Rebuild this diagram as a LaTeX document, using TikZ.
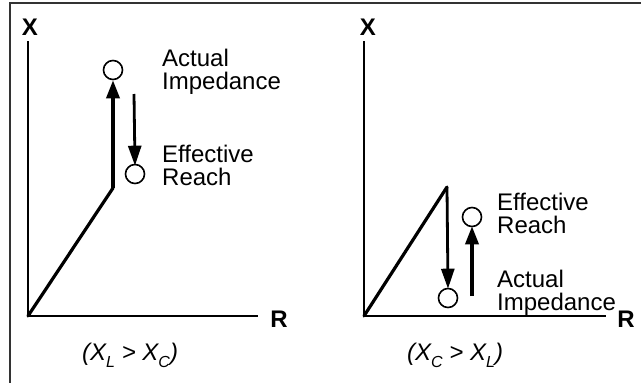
\documentclass[tikz,border=0pt]{standalone}
\usepackage{fontspec}
\setmainfont{Liberation Sans}
\usetikzlibrary{arrows.meta}
\begin{document}
\begin{tikzpicture}[x=1pt,y=-1pt,
  axisline/.style={line width=1.6pt,line cap=rect},
  thickline/.style={line width=3.2pt,line cap=round},
  bigarrow/.style={line width=3.4pt,-{Triangle[width=13pt,length=18pt]}},
  thinarrow/.style={line width=2.8pt,-{Triangle[width=13pt,length=20pt]}},
  pt/.style={circle,draw,line width=1.6pt,minimum size=19pt,inner sep=0pt},
  lbl/.style={font=\fontsize{24}{23}\selectfont,align=left,anchor=base west,inner sep=0pt},
  axlbl/.style={font=\fontsize{24}{24}\selectfont\bfseries,anchor=base,inner sep=0pt},
  cond/.style={font=\fontsize{24}{24}\selectfont\itshape,anchor=base west,inner sep=0pt}]
\newcommand{\mysub}[1]{\raisebox{-0.3em}{\fontsize{16}{16}\selectfont #1}}
\useasboundingbox (0,0) rectangle (641,383);
% frame
\draw[line width=1.6pt,black!80] (10,420) -- (10,3) -- (700,3);
% ---- left panel
\coordinate (o1) at (28,316);
\coordinate (y1) at (28,42);
\coordinate (x1) at (257,316);
\draw[axisline] (y1) -- (o1) -- (x1);
\node[axlbl] (X1) at (30,35) {X};
\node[axlbl] (R1) at (279,327) {R};
\coordinate (b1) at (113,188);
\node[pt] (ai1) at (113,70) {};
\node[pt] (er1) at (135,174) {};
\coordinate (d1) at (134,94);
\draw[thickline] (o1) -- (b1);
\draw[bigarrow] (b1) -- (ai1.south);
\draw[thinarrow] (d1) -- ([yshift=-2pt]er1.north);
\node[lbl] (t1) at (162,89) {Actual\\Impedance};
\node[lbl] (t2) at (162,185) {Effective\\Reach};
\node[cond] (c1) at (82,360) {(X\mysub{L} > X\mysub{C})};
% ---- right panel
\coordinate (o2) at (364,316);
\coordinate (y2) at (364,42);
\coordinate (x2) at (605,316);
\draw[axisline] (y2) -- (o2) -- (x2);
\node[axlbl] (X2) at (368,35) {X};
\node[axlbl] (R2) at (626,327) {R};
\coordinate (b2) at (447,187);
\node[pt] (ai2) at (448,298) {};
\node[pt] (er2) at (472,217) {};
\coordinate (u2) at (472,296);
\draw[thickline] (o2) -- (b2);
\draw[thinarrow] (b2) -- ([yshift=-1pt]ai2.north);
\draw[bigarrow] (u2) -- ([yshift=1pt]er2.south);
\node[lbl] (t3) at (497,233) {Effective\\Reach};
\node[lbl] (t4) at (497,310) {Actual\\Impedance};
\node[cond] (c2) at (407,360) {(X\mysub{C} > X\mysub{L})};
\end{tikzpicture}
\end{document}
